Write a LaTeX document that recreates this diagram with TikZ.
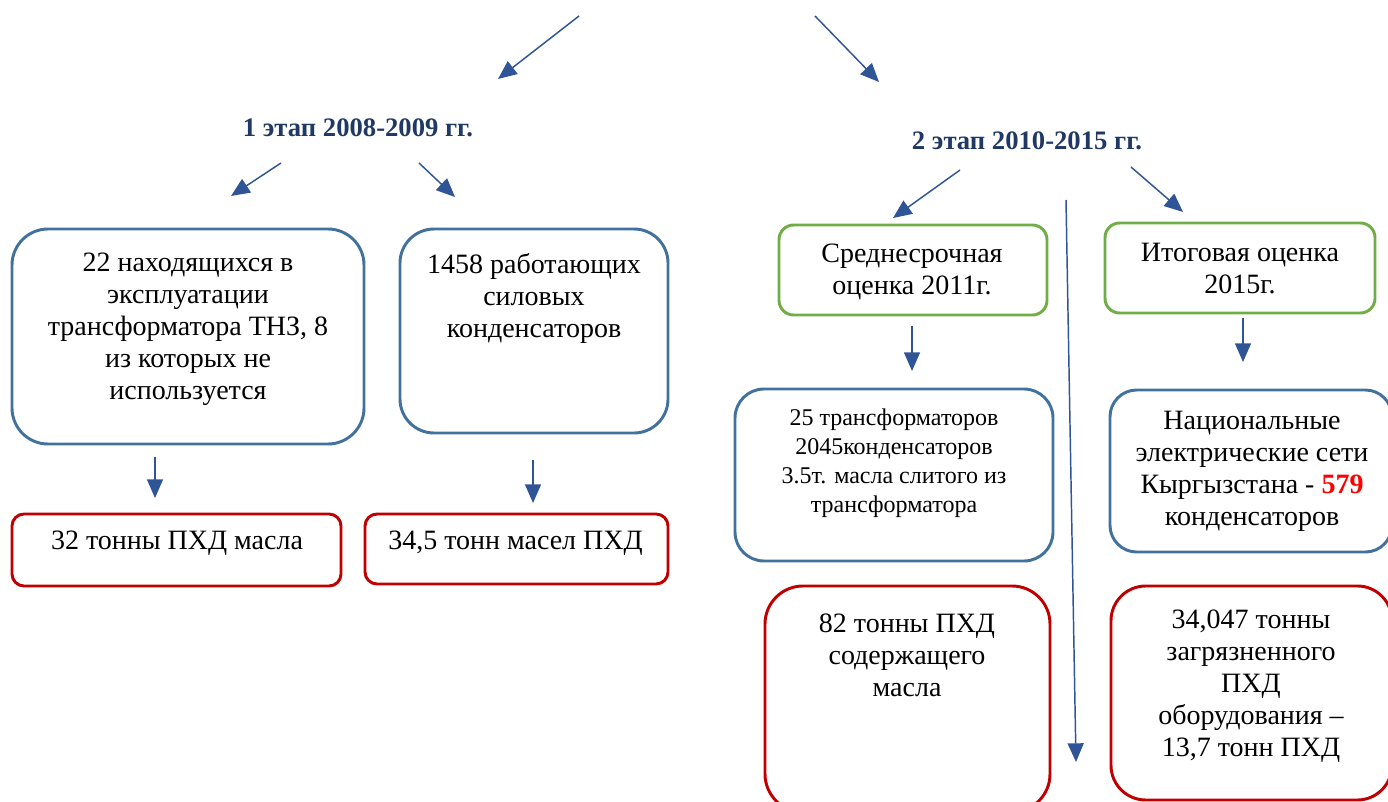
\documentclass[tikz,border=0pt]{standalone}
\usepackage{fontspec}
\setmainfont{Liberation Serif}
\usetikzlibrary{arrows.meta}
\definecolor{boxblue}{HTML}{41719C}
\definecolor{boxred}{HTML}{C00000}
\definecolor{boxgreen}{HTML}{70AD47}
\definecolor{arrowblue}{HTML}{2F5597}
\definecolor{titlenavy}{HTML}{1F3864}
\definecolor{numred}{HTML}{FF0000}
\begin{document}
\begin{tikzpicture}[x=0.75pt,y=-0.75pt,
  bx/.style={draw, line width=2.2pt, inner sep=0pt},
  bluebox/.style={bx, draw=boxblue},
  redbox/.style={bx, draw=boxred},
  greenbox/.style={bx, draw=boxgreen},
  txt/.style={align=center, inner sep=0pt, font=\fontsize{21}{24}\selectfont},
  smalltxt/.style={align=center, inner sep=0pt, font=\fontsize{18}{21.75}\selectfont},
  ttl/.style={inner sep=0pt, text=titlenavy, font=\fontsize{20}{24}\selectfont\bfseries},
  conn/.style={draw=arrowblue, line width=1.1pt, -{Triangle[length=14pt,width=12pt]}}]
\useasboundingbox (0,0) rectangle (1388,802);
\clip (0,0) rectangle (1388,802);

% titles
\node[ttl] (s1) at (358,128) {1 этап 2008-2009 гг.};
\node[ttl] (s2) at (1027,141) {2 этап 2010-2015 гг.};

% boxes
\node[bluebox, minimum width=264pt, minimum height=161.25pt, rounded corners=27pt] (A) at (188,336.5) {};
\node[txt] (tA) at (188,329) {22 находящихся в\\эксплуатации\\трансформатора ТНЗ, 8\\из которых не\\используется};

\node[bluebox, minimum width=201pt, minimum height=153pt, rounded corners=25.5pt] (B) at (534,331) {};
\node[txt] (tB) at (534,298) {1458 работающих\\силовых\\конденсаторов};

\node[redbox, minimum width=246.75pt, minimum height=54pt, rounded corners=9pt] (C) at (176.5,550) {};
\node[txt] (tC) at (177,543) {32 тонны ПХД масла};

\node[redbox, minimum width=227.25pt, minimum height=52.5pt, rounded corners=9pt] (D) at (516.5,549) {};
\node[txt] (tD) at (515.5,543) {34,5 тонн масел ПХД};

\node[greenbox, minimum width=201pt, minimum height=67.5pt, rounded corners=11pt] (E) at (913,270) {};
\node[txt] (tE) at (912,272) {Среднесрочная\\оценка 2011г.};

\node[greenbox, minimum width=202.5pt, minimum height=67.5pt, rounded corners=11pt] (F) at (1240,268) {};
\node[txt] (tF) at (1240,268.5) {Итоговая оценка\\2015г.};

\node[bluebox, minimum width=238.5pt, minimum height=129pt, rounded corners=21.75pt] (G) at (894,475) {};
\node[smalltxt] (tG) at (894,463) {25 трансформаторов\\2045конденсаторов\\3.5т. масла слитого из\\трансформатора};

\node[bluebox, minimum width=211.5pt, minimum height=121.5pt, rounded corners=20pt] (H) at (1251,471) {};
\node[txt] (tH) at (1252,471.5) {Национальные\\электрические сети\\Кыргызстана - {\bfseries\color{numred}579}\\конденсаторов};

\node[redbox, minimum width=213.75pt, minimum height=169.5pt, rounded corners=28.5pt] (I) at (907.5,699) {};
\node[txt] (tI) at (907,655) {82 тонны ПХД\\содержащего\\масла};

\node[redbox, minimum width=210.75pt, minimum height=160.5pt, rounded corners=26pt] (J) at (1251.5,693) {};
\node[txt] (tJ) at (1251,686) {34,047 тонны\\загрязненного\\ПХД\\оборудования –\\13,7 тонн ПХД};

% arrow end points
\coordinate (a1s) at (579,16);   \coordinate (a1e) at (498,79);
\coordinate (a2s) at (815,16);   \coordinate (a2e) at (879,82);
\coordinate (a3s) at (281,163);  \coordinate (a3e) at (231,196);
\coordinate (a4s) at (419,163);  \coordinate (a4e) at (455,197);
\coordinate (a5s) at (960,170);  \coordinate (a5e) at (893,218);
\coordinate (a6s) at (1131,167); \coordinate (a6e) at (1183,212);
\coordinate (a7s) at (1066,200); \coordinate (a7e) at (1076,762);
\coordinate (a8s) at (155,457);  \coordinate (a8e) at (155,498);
\coordinate (a9s) at (533,460);  \coordinate (a9e) at (533,503);
\coordinate (a10s) at (912,326); \coordinate (a10e) at (912,371);
\coordinate (a11s) at (1243,318);\coordinate (a11e) at (1243,362);

\foreach \i in {1,...,11} \draw[conn] (a\i s) -- (a\i e);
\end{tikzpicture}
\end{document}
